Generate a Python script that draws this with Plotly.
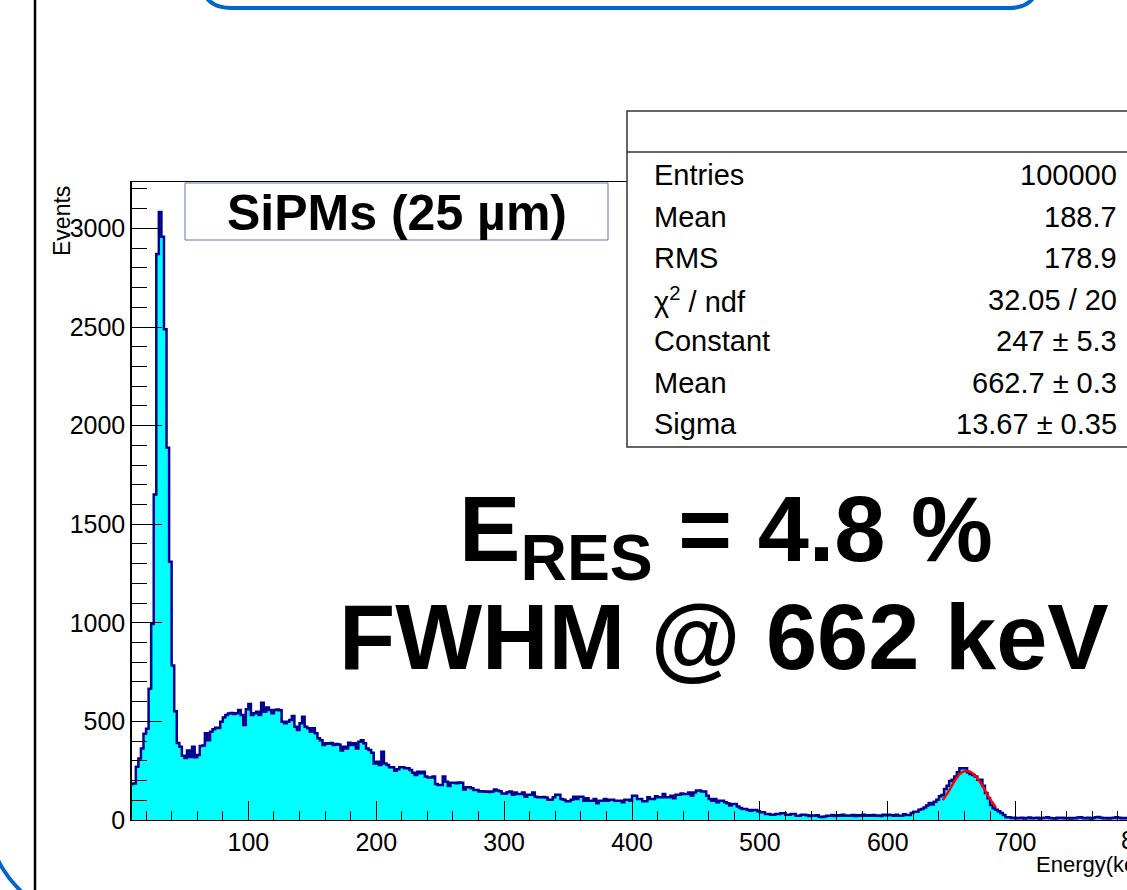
import plotly.graph_objects as go

# ---------------- data ----------------
BIN_START = 8      # keV, left edge of first bin
BIN_WIDTH = 2      # keV
COUNTS = [
    182, 185, 270, 312, 362, 438, 463, 665, 994, 1650,      # 8-26
    2870, 3083, 2958, 2488, 1888, 1310, 783, 552, 391, 372,  # 28-46
    326, 315, 352, 320, 372, 318, 330, 375, 378, 440,        # 48-66
    405, 448, 460, 468, 466, 498, 520, 532, 540, 543,        # 68-86
    538, 541, 558, 532, 482, 561, 588, 532, 541, 549,        # 88-106
    532, 595, 549, 571, 558, 541, 558, 560, 556, 498,        # 108-126
    490, 498, 507, 527, 473, 456, 490, 524, 473, 465,        # 128-146
    448, 465, 440, 414, 405, 380, 389, 387, 391, 380,        # 148-166
    385, 383, 352, 372, 363, 392, 380, 389, 363, 397,        # 168-186
    405, 389, 363, 355, 341, 287, 296, 279, 346, 287,        # 188-206
    279, 267, 267, 250, 257, 267, 267, 262, 262, 253,        # 208-226
    240, 228, 245, 237, 245, 220, 216, 216, 220, 183,        # 228-246
    177, 177, 220, 194, 172, 189, 189, 186, 190, 189,        # 248-266
    155, 166, 166, 161, 152, 152, 144, 146, 143, 144,        # 268-286
    142, 145, 155, 149, 146, 134, 133, 141, 144, 128,        # 288-306
    140, 132, 132, 140, 118, 128, 128, 140, 118, 115,        # 308-326
    115, 116, 114, 103, 103, 115, 128, 128, 106, 103,        # 328-346
    95, 95, 103, 118, 106, 118, 118, 98, 110, 98,            # 348-366
    98, 106, 85, 98, 98, 106, 98, 103, 103, 98,              # 368-386
    98, 98, 90, 103, 103, 98, 123, 123, 106, 106,            # 388-406
    95, 95, 115, 106, 106, 120, 115, 115, 132, 115,          # 408-426
    115, 123, 110, 128, 128, 135, 132, 132, 140, 123,        # 428-446
    140, 149, 149, 145, 145, 123, 106, 98, 106, 90,          # 448-466
    98, 98, 90, 85, 73, 81, 81, 68, 61, 56,                  # 468-486
    56, 51, 47, 51, 51, 44, 39, 39, 30, 30,                  # 488-506
    27, 27, 30, 30, 34, 34, 27, 27, 30, 30,                  # 508-526
    22, 22, 27, 27, 24, 20, 23, 21, 24, 16,                  # 528-546
    15, 18, 22, 22, 25, 20, 24, 22, 27, 21,                  # 548-566
    23, 22, 25, 20, 24, 22, 26, 22, 24, 21,                  # 568-586
    25, 22, 23, 20, 26, 24, 27, 24, 22, 26,                  # 588-606
    22, 22, 29, 25, 25, 35, 42, 42, 52, 56,                  # 608-626
    63, 73, 86, 79, 93, 103, 120, 127, 157, 174,             # 628-646
    198, 204, 221, 242, 262, 262, 262, 242, 233, 228,        # 648-666
    221, 204, 204, 174, 137, 110, 76, 59, 52, 45,            # 668-686
    35, 25, 14, 14, 10, 12, 9, 10, 12, 8,                    # 688-706
    10, 13, 9, 10, 11, 8, 10, 12, 14, 10,                    # 708-726
    9, 8, 11, 10, 12, 9, 10, 8, 10, 9,                       # 728-746
    13, 14, 10, 9, 11, 8, 10, 14, 15, 12,                    # 748-766
    9, 10, 8, 10, 11, 14, 12, 9, 10, 9,                      # 768-786
]

FIT_X = [643, 648, 653, 657, 661, 665, 670, 675, 679, 684.5]
FIT_Y = [100, 150, 205, 237, 248, 243, 212, 162, 116, 64]

X_TICKS = [100, 200, 300, 400, 500, 600, 700]
Y_TICKS = [0, 500, 1000, 1500, 2000, 2500, 3000]

STAT_LABELS = ["Entries", "Mean", "RMS", "\u03c7<sup>2</sup> / ndf", "Constant", "Mean", "Sigma"]
STAT_VALUES = ["100000", "188.7", "178.9", "32.05 / 20", "247 \u00b1 5.3", "662.7 \u00b1 0.3", "13.67 \u00b1 0.35"]

LABEL_BOX = "SiPMs (25 \u00b5m)"
BIG_LINE1 = "E<sub>RES</sub> = 4.8 %"
BIG_LINE2 = "FWHM @ 662 keV"

# ---------------- geometry ----------------
W, H = 1127, 890
PL, PR, PT, PB = 132, 1127, 182, 820
PW, PH = PR - PL, PB - PT
X_RANGE = [9, 9 + PW / 1.2788]
Y_RANGE = [0, PH / 0.19720]


def px(x):
    return (x - PL) / PW


def py(y):
    return (PB - y) / PH


edges = [BIN_START + BIN_WIDTH * i for i in range(len(COUNTS) + 1)]
step_y = COUNTS + [COUNTS[-1]]

NARROW = "Liberation Sans Narrow, Arial Narrow, Liberation Sans, Arial, sans-serif"
SANS = "Liberation Sans, Arial, Helvetica, sans-serif"

fig = go.Figure()
fig.add_trace(go.Scatter(
    x=edges, y=step_y, mode="lines", line_shape="hv",
    line=dict(color="#000090", width=2.5),
    fill="tozeroy", fillcolor="#00FFFF", hoverinfo="skip",
))
fig.add_trace(go.Scatter(
    x=FIT_X, y=FIT_Y, mode="lines", line_shape="spline",
    line=dict(color="#FF0000", width=2.5), hoverinfo="skip",
))

tick_font = dict(family=NARROW, size=25, color="black")
fig.update_xaxes(
    range=X_RANGE, tickvals=X_TICKS, ticks="inside", ticklen=19, tickwidth=1,
    tickcolor="black", tickfont=tick_font, showgrid=False, zeroline=False,
    showline=True, linecolor="black", linewidth=1, mirror=True,
    minor=dict(dtick=20, tick0=0, ticks="inside", ticklen=9, tickcolor="black", tickwidth=1),
)
fig.update_yaxes(
    range=Y_RANGE, tickvals=Y_TICKS, ticks="inside", ticklen=30, tickwidth=1,
    tickcolor="black", tickfont=tick_font, showgrid=False, zeroline=False,
    showline=True, linecolor="black", linewidth=1.5,
    minor=dict(dtick=100, tick0=0, ticks="inside", ticklen=15, tickcolor="black", tickwidth=1),
)

shapes = []
# stats box
shapes.append(dict(type="rect", xref="paper", yref="paper",
                   x0=px(627), x1=px(1140), y0=py(447), y1=py(111),
                   fillcolor="white", line=dict(color="#333333", width=1.5), layer="above"))
shapes.append(dict(type="line", xref="paper", yref="paper",
                   x0=px(627), x1=px(1140), y0=py(152), y1=py(152),
                   line=dict(color="#333333", width=1.5), layer="above"))
# label box
shapes.append(dict(type="rect", xref="paper", yref="paper",
                   x0=px(185), x1=px(608), y0=py(240), y1=py(183),
                   fillcolor="white", line=dict(color="#5a78ad", width=1), layer="above"))
# slide decorations
shapes.append(dict(type="line", xref="paper", yref="paper",
                   x0=px(35), x1=px(35), y0=py(-5), y1=py(895),
                   line=dict(color="black", width=2.5), layer="above"))
top_path = (f"M {px(203)},{py(-30)} L {px(203)},{py(-14)} "
            f"Q {px(205)},{py(8)} {px(232)},{py(8)} L {px(1008)},{py(8)} "
            f"Q {px(1035)},{py(8)} {px(1037)},{py(-14)} L {px(1037)},{py(-30)}")
shapes.append(dict(type="path", xref="paper", yref="paper", path=top_path,
                   line=dict(color="#0066CC", width=4), layer="above"))
arc_path = f"M {px(-4)},{py(856)} Q {px(6)},{py(878)} {px(24)},{py(894)}"
shapes.append(dict(type="path", xref="paper", yref="paper", path=arc_path,
                   line=dict(color="#0066CC", width=4), layer="above"))

ann = []
row_y = [175, 216.5, 258, 299.5, 341, 382.5, 424]
for lab, val, yy in zip(STAT_LABELS, STAT_VALUES, row_y):
    ann.append(dict(text=lab, x=px(652), y=py(yy), xref="paper", yref="paper",
                    xanchor="left", yanchor="middle", showarrow=False,
                    font=dict(family=SANS, size=29, color="black")))
    ann.append(dict(text=val, x=px(1119), y=py(yy), xref="paper", yref="paper",
                    xanchor="right", yanchor="middle", showarrow=False,
                    font=dict(family=SANS, size=29, color="black")))

ann.append(dict(text=f"<b>{LABEL_BOX}</b>", x=px(397), y=py(213), xref="paper", yref="paper",
                xanchor="center", yanchor="middle", showarrow=False,
                font=dict(family=SANS, size=50, color="black")))
ann.append(dict(text=f"<b>{BIG_LINE1}</b>", x=px(726), y=py(536), xref="paper", yref="paper",
                xanchor="center", yanchor="middle", showarrow=False,
                font=dict(family=SANS, size=92, color="black")))
ann.append(dict(text=f"<b>{BIG_LINE2}</b>", x=px(724), y=py(637), xref="paper", yref="paper",
                xanchor="center", yanchor="middle", showarrow=False,
                font=dict(family=SANS, size=92, color="black")))
ann.append(dict(text="Events", x=px(62), y=py(184), xref="paper", yref="paper",
                xanchor="center", yanchor="top", textangle=-90, showarrow=False,
                font=dict(family=SANS, size=23, color="black")))
ann.append(dict(text="Energy(keV)", x=px(1034), y=py(864), xref="paper", yref="paper",
                xanchor="left", yanchor="middle", showarrow=False,
                font=dict(family=SANS, size=22, color="black")))
ann.append(dict(text="800", x=px(1142), y=py(840), xref="paper", yref="paper",
                xanchor="center", yanchor="middle", showarrow=False,
                font=tick_font))

fig.update_layout(
    width=W, height=H, autosize=False,
    margin=dict(l=PL, r=W - PR, t=PT, b=H - PB, pad=0),
    paper_bgcolor="white", plot_bgcolor="white",
    showlegend=False, shapes=shapes, annotations=ann,
)

fig.write_html("out.html", config={"displayModeBar": False},
               post_script="document.body.style.margin='0';")
